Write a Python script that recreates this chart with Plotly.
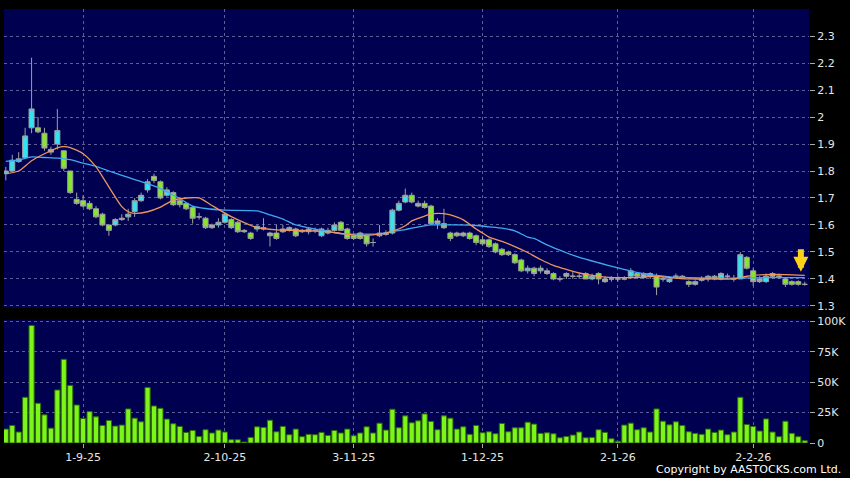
import plotly.graph_objects as go

# ---------------- data ----------------
idx = list(range(125))
open_ = [1.79,1.80,1.835,1.85,1.96,1.96,1.94,1.87,1.90,1.875,
         1.80,1.695,1.69,1.68,1.66,1.64,1.60,1.60,1.62,1.63,
         1.65,1.69,1.73,1.78,1.76,1.71,1.72,1.69,1.68,1.665,
         1.63,1.625,1.60,1.60,1.61,1.62,1.61,1.58,1.57,1.585,
         1.59,1.57,1.57,1.575,1.58,1.585,1.58,1.575,1.58,1.56,
         1.58,1.58,1.61,1.585,1.56,1.57,1.56,1.535,1.56,1.565,
         1.57,1.655,1.685,1.71,1.67,1.68,1.67,1.615,1.605,1.57,
         1.57,1.57,1.57,1.56,1.545,1.545,1.53,1.51,1.50,1.49,
         1.47,1.43,1.44,1.43,1.43,1.42,1.40,1.41,1.41,1.41,
         1.42,1.40,1.42,1.40,1.40,1.40,1.40,1.41,1.42,1.405,
         1.42,1.41,1.40,1.39,1.41,1.405,1.39,1.38,1.395,1.40,
         1.40,1.40,1.41,1.40,1.40,1.48,1.43,1.40,1.39,1.41,
         1.41,1.40,1.39,1.39,1.38]
high = [1.815,1.86,1.87,1.96,2.22,2.00,1.96,1.89,2.03,1.875,
        1.80,1.72,1.71,1.69,1.67,1.645,1.60,1.625,1.64,1.66,
        1.70,1.72,1.77,1.79,1.765,1.74,1.725,1.695,1.685,1.67,
        1.645,1.63,1.605,1.625,1.645,1.625,1.615,1.585,1.575,1.60,
        1.625,1.575,1.60,1.60,1.595,1.59,1.585,1.59,1.59,1.59,
        1.59,1.61,1.615,1.59,1.565,1.575,1.565,1.55,1.60,1.58,
        1.66,1.69,1.735,1.72,1.69,1.69,1.675,1.625,1.66,1.575,
        1.575,1.575,1.575,1.565,1.56,1.55,1.535,1.515,1.505,1.495,
        1.475,1.45,1.445,1.45,1.44,1.425,1.41,1.425,1.425,1.42,
        1.425,1.42,1.425,1.41,1.41,1.41,1.41,1.44,1.425,1.425,
        1.425,1.42,1.41,1.41,1.42,1.415,1.395,1.395,1.41,1.415,
        1.415,1.425,1.42,1.415,1.50,1.485,1.44,1.41,1.42,1.425,
        1.42,1.405,1.395,1.395,1.39]
low = [1.765,1.80,1.83,1.85,1.94,1.94,1.875,1.86,1.88,1.80,
       1.715,1.675,1.665,1.655,1.625,1.595,1.56,1.595,1.615,1.615,
       1.63,1.685,1.72,1.755,1.695,1.705,1.67,1.665,1.655,1.605,
       1.62,1.585,1.585,1.59,1.605,1.585,1.57,1.57,1.545,1.575,
       1.58,1.52,1.545,1.57,1.575,1.555,1.57,1.565,1.57,1.555,
       1.565,1.575,1.58,1.545,1.545,1.545,1.52,1.52,1.555,1.56,
       1.565,1.65,1.68,1.68,1.665,1.66,1.60,1.585,1.585,1.54,
       1.555,1.555,1.545,1.525,1.525,1.515,1.495,1.485,1.485,1.455,
       1.425,1.42,1.41,1.42,1.415,1.395,1.39,1.40,1.40,1.40,
       1.40,1.395,1.38,1.385,1.39,1.39,1.395,1.40,1.40,1.40,
       1.40,1.34,1.39,1.385,1.40,1.40,1.37,1.375,1.39,1.39,
       1.395,1.395,1.40,1.39,1.40,1.435,1.375,1.385,1.385,1.40,
       1.40,1.37,1.375,1.375,1.375]
close = [1.80,1.84,1.845,1.93,2.03,1.945,1.885,1.88,1.95,1.81,
         1.72,1.68,1.67,1.66,1.63,1.60,1.58,1.62,1.625,1.64,
         1.69,1.71,1.76,1.765,1.70,1.73,1.675,1.675,1.66,1.625,
         1.63,1.59,1.59,1.61,1.64,1.59,1.575,1.575,1.55,1.595,
         1.585,1.56,1.55,1.585,1.59,1.56,1.575,1.585,1.58,1.585,
         1.57,1.60,1.58,1.55,1.55,1.55,1.53,1.535,1.57,1.57,
         1.655,1.68,1.71,1.685,1.68,1.665,1.605,1.605,1.59,1.55,
         1.56,1.56,1.55,1.535,1.53,1.52,1.50,1.49,1.49,1.46,
         1.43,1.44,1.42,1.44,1.42,1.40,1.40,1.42,1.41,1.41,
         1.40,1.41,1.40,1.39,1.40,1.40,1.40,1.43,1.41,1.42,
         1.41,1.37,1.40,1.40,1.41,1.41,1.38,1.39,1.40,1.41,
         1.41,1.42,1.41,1.40,1.49,1.44,1.39,1.39,1.41,1.42,
         1.41,1.38,1.38,1.38,1.38]
volume_k = [11.4,14.4,9.0,37.5,96.5,32.6,23.1,12.2,43.5,68.7,
            47.3,31.2,20.1,25.8,21.5,14.4,18.5,13.9,14.7,28.0,
            20.4,17.4,45.6,30.4,28.5,19.6,15.8,13.6,8.7,10.3,
            5.4,10.9,8.2,10.6,9.0,2.7,2.7,0.8,4.6,13.3,
            12.8,18.7,9.2,13.6,6.8,11.4,5.2,7.1,6.8,8.7,
            6.2,10.3,8.2,11.4,6.0,8.2,13.3,8.2,16.3,10.6,
            27.7,12.5,22.3,16.6,18.2,23.9,17.7,10.9,22.3,20.4,
            11.4,13.3,7.1,14.4,8.4,9.2,7.6,16.0,9.2,12.5,
            12.5,17.1,15.5,7.9,8.4,7.6,4.3,5.4,6.5,9.0,
            4.3,4.6,10.9,8.7,3.5,1.4,14.7,16.3,10.9,12.5,
            9.0,28.0,17.9,14.9,17.4,14.4,9.2,7.9,7.1,11.4,
            8.7,10.6,6.8,9.0,37.5,15.2,13.6,9.8,19.8,9.0,
            5.2,17.9,7.9,5.2,1.9]
volume = [v * 1000 for v in volume_k]

# moving-average lines, read as (position, value) points
ma10_x = [0,2,4,6,8,9,10,12,14,16,18,19,20,22,24,26,28,30,32,33,35,37,39,42,45,48,50,52,55,
          58,60,62,63,65,66,68,69,71,73,74,75,77,79,81,83,85,87,89,91,93,96,99,101,103,106,
          110,113,115,118,121,124]
ma10_y = [1.79,1.80,1.838,1.864,1.886,1.89,1.887,1.864,1.815,1.741,1.668,1.649,1.643,1.649,
          1.666,1.692,1.70,1.70,1.672,1.658,1.631,1.609,1.59,1.582,1.58,1.577,1.575,1.569,1.561,
          1.566,1.576,1.597,1.615,1.633,1.641,1.642,1.637,1.619,1.585,1.57,1.555,1.539,1.52,
          1.498,1.472,1.45,1.435,1.422,1.413,1.407,1.405,1.407,1.41,1.405,1.40,1.40,1.40,
          1.41,1.416,1.416,1.413]
ma20_x = [0,2,4,6,8,10,12,14,16,18,20,22,24,27,29,31,34,39,41,43,45,47,49,52,55,58,60,62,
          63,65,66,70,73,75,77,79,81,82,84,87,89,92,95,97,99,101,103,106,110,114,118,121,124]
ma20_y = [1.836,1.84,1.852,1.85,1.848,1.842,1.829,1.817,1.80,1.784,1.768,1.753,1.735,1.698,
          1.67,1.661,1.655,1.652,1.637,1.622,1.60,1.59,1.58,1.567,1.566,1.567,1.576,1.583,
          1.588,1.597,1.60,1.60,1.598,1.593,1.588,1.578,1.555,1.55,1.526,1.497,1.48,1.46,
          1.441,1.429,1.42,1.413,1.408,1.405,1.403,1.403,1.405,1.405,1.405]

tick_pos = [12, 34, 54, 74, 95, 116]
tick_text = ["1-9-25", "2-10-25", "3-11-25", "1-12-25", "2-1-26", "2-2-26"]
price_ticks = [1.3,1.4,1.5,1.6,1.7,1.8,1.9,2.0,2.1,2.2,2.3]
price_text = ["1.3","1.4","1.5","1.6","1.7","1.8","1.9","2","2.1","2.2","2.3"]
vol_ticks = [0, 25000, 50000, 75000, 100000]
vol_text = ["0", "25K", "50K", "75K", "100K"]

# ---------------- figure ----------------
BG = "#000050"
GRID = "rgba(125,125,175,0.75)"
TXT = "#E6E6E6"
FONT = "DejaVu Sans"

fig = go.Figure()
fig.add_trace(go.Candlestick(
    x=idx, open=open_, high=high, low=low, close=close,
    increasing=dict(fillcolor="#33E3F2", line=dict(color="#A0A0A0", width=1)),
    decreasing=dict(fillcolor="#86E82A", line=dict(color="#A0A0A0", width=1)),
    whiskerwidth=0, xaxis="x", yaxis="y", showlegend=False, hoverinfo="skip"))
fig.add_trace(go.Scatter(x=ma20_x, y=ma20_y, mode="lines",
                         line=dict(color="#3FA9F2", width=1.3, shape="spline", smoothing=0.6),
                         xaxis="x", yaxis="y", showlegend=False, hoverinfo="skip"))
fig.add_trace(go.Scatter(x=ma10_x, y=ma10_y, mode="lines",
                         line=dict(color="#EE955E", width=1.3, shape="spline", smoothing=0.6),
                         xaxis="x", yaxis="y", showlegend=False, hoverinfo="skip"))
fig.add_trace(go.Bar(x=idx, y=volume, marker=dict(color="#7CF51A", line=dict(color="#2F6A08", width=1)),
                     xaxis="x2", yaxis="y2", showlegend=False, hoverinfo="skip"))

xr = [-0.28, 124.66]
axis_common = dict(range=xr, tickvals=tick_pos, showgrid=True, gridcolor=GRID, griddash="3px,3px",
                   gridwidth=1, zeroline=False, showline=False, fixedrange=True)

fig.update_layout(
    width=850, height=478,
    margin=dict(l=4, r=39, t=5, b=34.5),
    paper_bgcolor="#000000", plot_bgcolor=BG,
    font=dict(family=FONT, size=11, color=TXT),
    bargap=0.2, boxgap=0.22, boxgroupgap=0,
    xaxis=dict(**axis_common, anchor="y", showticklabels=False, ticks="",
               rangeslider=dict(visible=False)),
    xaxis2=dict(**axis_common, anchor="y2", matches="x", ticktext=tick_text, ticks="outside",
                ticklen=4, tickcolor="#AAAAAA", tickfont=dict(size=11, color=TXT)),
    yaxis=dict(domain=[0.3113, 1.0], range=[1.2927, 2.4003], side="right",
               tickvals=price_ticks, ticktext=price_text, ticks="outside", ticklen=5,
               tickcolor="#AAAAAA", showgrid=True, gridcolor=GRID, griddash="3px,3px",
               zeroline=False, showline=False, fixedrange=True),
    yaxis2=dict(domain=[0.0, 0.284], range=[0, 101200], side="right",
                tickvals=vol_ticks, ticktext=vol_text, ticks="outside", ticklen=5,
                tickcolor="#AAAAAA", showgrid=True, gridcolor=GRID, griddash="3px,3px",
                zeroline=False, showline=False, fixedrange=True),
)

fig.add_annotation(x=123.4, y=1.427, xref="x", yref="y", text="", showarrow=True,
                   ax=0, ay=-24, arrowhead=2, arrowsize=0.5, arrowwidth=6, arrowcolor="#FFD21A")
fig.add_annotation(x=1, y=0, xref="paper", yref="paper", text="Copyright by AASTOCKS.com Ltd.",
                   showarrow=False, xanchor="right", yanchor="middle", xshift=34, yshift=-26,
                   font=dict(family=FONT, size=11, color="#FFFFFF"))

fig.write_html("out.html", config={"displayModeBar": False},
               post_script="document.body.style.margin='0';")
